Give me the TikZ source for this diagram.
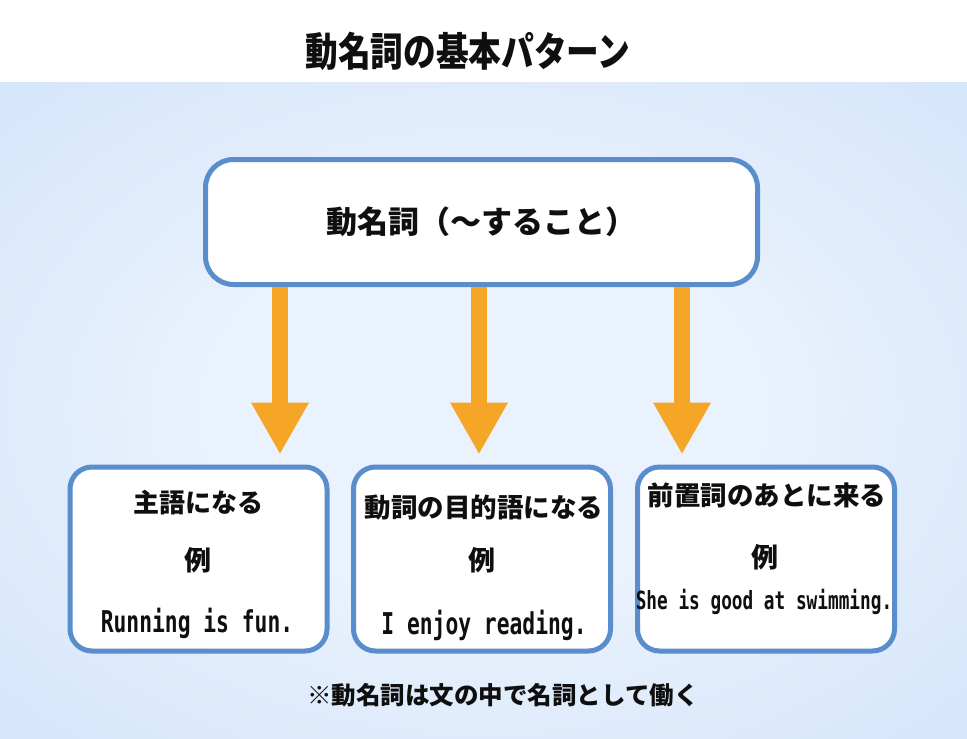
\documentclass[tikz,border=0pt]{standalone}
\usepackage{fontspec}
\usepackage{graphicx}
\setmainfont{Noto Sans CJK JP}
\newfontfamily\exfont{DejaVu Sans Mono}
\usetikzlibrary{arrows.meta}
\definecolor{gbBlue}{RGB}{90,141,204}
\definecolor{gbOrange}{RGB}{246,166,38}
\definecolor{gbSkyEdge}{RGB}{196,219,248}
\definecolor{gbSkyCorner}{RGB}{184,210,246}
\definecolor{gbSkyMid}{RGB}{234,242,253}
\definecolor{gbInk}{RGB}{15,15,15}
\pgfdeclareradialshading{gbglow}{\pgfpoint{0bp}{0bp}}{%
  color(0bp)=(gbSkyMid); color(14bp)=(gbSkyMid); color(52bp)=(gbSkyEdge);
  color(72bp)=(gbSkyCorner)}
\newcommand{\jsize}[1]{\fontsize{#1}{#1}\selectfont\bfseries}
\newcommand{\sample}[2]{\scalebox{0.71}[1]{\exfont\fontsize{#1}{#1}\selectfont\bfseries #2}}
\tikzset{
  panel/.style={draw=gbBlue, fill=white, line width=5pt, rounded corners=22pt,
    minimum width=257pt, minimum height=184pt},
  flow/.style={draw=gbOrange, line width=16pt,
    -{Triangle[width=54pt,length=52pt]}, shorten >=10pt},
  label/.style={text=gbInk, inner sep=0pt}
}

\begin{document}
\begin{tikzpicture}[x=1pt,y=-1pt]
  \useasboundingbox (0,0) rectangle (967,739);
  \fill[white] (0,0) rectangle (967,82);
  \shade[shading=gbglow] (0,82) rectangle (967,739);

  % title
  \node[label] (title) at (468,51) {\scalebox{0.86}[1.05]{\jsize{38}動名詞の基本パターン}};

  % main box
  \node[draw=gbBlue, fill=white, line width=5pt, rounded corners=28pt,
        minimum width=552pt, minimum height=125pt, text=gbInk,
        font=\jsize{31}] (gerund) at (481.5,222) {動名詞（～すること）};

  % three uses
  \node[panel] (subj) at (198.5,559) {};
  \node[panel] (obj)  at (482,559) {};
  \node[panel] (prep) at (766,559) {};

  \node[label, font=\jsize{26}] (subjhead) at (198,503) {主語になる};
  \node[label, font=\jsize{27}] (subjrei)  at (198,560) {例};
  \node[label] (subjex) at (197,623) {\sample{30}{Running is fun.}};

  \node[label, font=\jsize{26.5}] (objhead) at (484,508) {動詞の目的語になる};
  \node[label, font=\jsize{27}] (objrei)  at (482,560) {例};
  \node[label] (objex) at (484,625) {\sample{30}{I enjoy reading.}};

  \node[label, font=\jsize{26.5}] (prephead) at (767,495) {前置詞のあとに来る};
  \node[label, font=\jsize{27}] (preprei)  at (765,557) {例};
  \node[label] (prepex) at (764,602) {\sample{25}{She is good at swimming.}};

  % arrows
  \coordinate (down1) at ([xshift=-201.5pt]gerund.south);
  \coordinate (down2) at ([xshift=-2.5pt]gerund.south);
  \coordinate (down3) at ([xshift=200.5pt]gerund.south);
  \draw[flow] (down1) -- (down1 |- subj.north);
  \draw[flow] (down2) -- (down2 |- obj.north);
  \draw[flow] (down3) -- (down3 |- prep.north);

  \node[label, font=\jsize{24.5}] (note) at (503,695) {※動名詞は文の中で名詞として働く};
\end{tikzpicture}
\end{document}
